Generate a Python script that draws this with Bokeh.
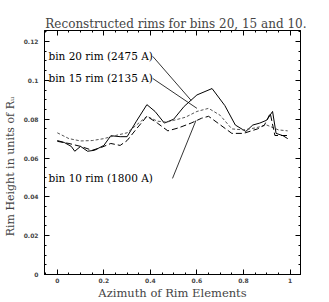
from bokeh.plotting import figure
from bokeh.models import FixedTicker, LinearAxis, Range1d
from bokeh.core.properties import value
from bokeh.embed import file_html
from bokeh.resources import INLINE

# data
bin20_x = [0.0, 0.03, 0.06, 0.075, 0.1, 0.13, 0.16, 0.2, 0.23, 0.27, 0.3, 0.34, 0.385, 0.42, 0.46, 0.5, 0.545, 0.6, 0.665, 0.72, 0.765, 0.81, 0.84, 0.87, 0.9, 0.925, 0.94, 0.97, 0.99]
bin20_y = [0.069, 0.068, 0.066, 0.0635, 0.066, 0.0635, 0.064, 0.0665, 0.0715, 0.071, 0.071, 0.079, 0.0875, 0.084, 0.078, 0.080, 0.0866, 0.0925, 0.0958, 0.087, 0.077, 0.0737, 0.077, 0.078, 0.0795, 0.084, 0.0727, 0.0715, 0.070]

bin15_x = [0.0, 0.05, 0.1, 0.15, 0.2, 0.25, 0.3, 0.34, 0.385, 0.43, 0.47, 0.5, 0.55, 0.6, 0.65, 0.7, 0.75, 0.8, 0.85, 0.9, 0.95, 0.99]
bin15_y = [0.073, 0.070, 0.0688, 0.069, 0.070, 0.0716, 0.073, 0.077, 0.0815, 0.079, 0.0785, 0.0794, 0.081, 0.084, 0.0856, 0.082, 0.075, 0.0745, 0.0755, 0.077, 0.0745, 0.074]

bin10_x = [0.0, 0.05, 0.1, 0.15, 0.19, 0.23, 0.27, 0.3, 0.34, 0.385, 0.43, 0.475, 0.52, 0.575, 0.62, 0.65, 0.69, 0.75, 0.8, 0.86, 0.89, 0.915, 0.935, 0.96, 0.99]
bin10_y = [0.0686, 0.0675, 0.066, 0.064, 0.0655, 0.0675, 0.0665, 0.069, 0.075, 0.0815, 0.078, 0.074, 0.0755, 0.078, 0.0805, 0.0815, 0.078, 0.0727, 0.0727, 0.075, 0.077, 0.083, 0.0716, 0.0716, 0.0716]

labels = ["bin 20 rim (2475 A)", "bin 15 rim (2135 A)", "bin 10 rim (1800 A)"]
x_ticks = [0, 0.2, 0.4, 0.6, 0.8, 1.0]
x_tick_labels = ["0", "0.2", "0.4", "0.6", "0.8", "1"]
y_ticks = [0, 0.02, 0.04, 0.06, 0.08, 0.1, 0.12]
y_tick_labels = ["0", "0.02", "0.04", "0.06", "0.08", "0.1", "0.12"]

SERIF = "DejaVu Serif"

p = figure(width=313, height=288, output_backend="svg", toolbar_location=None,
           x_range=Range1d(-0.055, 1.045), y_range=Range1d(0, 0.1257),
           title="Reconstructed rims for bins 20, 15 and 10.")
p.margin = (14, 0, 0, 0)
p.min_border_left = 40
p.min_border_right = 13
p.min_border_top = 0
p.min_border_bottom = 0
p.title.text_font = SERIF
p.title.text_font_size = "12px"
p.title.text_font_style = "normal"
p.title.align = "right"
p.title.offset = -6
p.title.standoff = 0
p.xgrid.visible = False
p.ygrid.visible = False
p.outline_line_color = "black"
p.outline_line_width = 1
p.background_fill_color = "white"
p.border_fill_color = "white"

minor_x = [i * 0.05 for i in range(-1, 21)]
minor_y = [i * 0.005 for i in range(0, 26)]

def style(ax, ticks, labs, minor, show):
    ax.ticker = FixedTicker(ticks=ticks, minor_ticks=minor)
    ax.major_label_overrides = {t: l for t, l in zip(ticks, labs)}
    ax.major_tick_in = 5
    ax.major_tick_out = 0
    ax.minor_tick_in = 2
    ax.minor_tick_out = 0
    ax.axis_line_color = "black"
    ax.major_tick_line_color = "black"
    ax.minor_tick_line_color = "black"
    ax.major_label_text_font = "DejaVu Sans"
    ax.major_label_text_font_size = "6px"
    ax.major_label_text_font_style = "bold"
    ax.major_label_standoff = 4
    if not show:
        ax.major_label_text_color = None
        ax.major_label_standoff = 0
        ax.major_label_text_font_size = "0px"

style(p.xaxis[0], x_ticks, x_tick_labels, minor_x, True)
style(p.yaxis[0], y_ticks, y_tick_labels, minor_y, True)
p.yaxis[0].major_label_standoff = 6
p.xaxis[0].major_label_standoff = 3
p.xaxis[0].axis_label = "Azimuth of Rim Elements"
p.xaxis[0].axis_label_text_font_size = "11.5px"
p.xaxis[0].axis_label_standoff = 0
p.yaxis[0].axis_label = "Rim Height in units of R\u1d64" + " " * 8
p.yaxis[0].axis_label_text_font_size = "11px"
p.yaxis[0].axis_label_standoff = 4
for ax in (p.xaxis[0], p.yaxis[0]):
    ax.axis_label_text_font = SERIF
    ax.axis_label_text_font_style = "normal"

top = LinearAxis()
right = LinearAxis()
style(top, x_ticks, x_tick_labels, minor_x, False)
style(right, y_ticks, y_tick_labels, minor_y, False)
p.add_layout(top, "above")
p.add_layout(right, "right")

p.line(bin20_x, bin20_y, line_color="black", line_width=1)
p.line(bin15_x, bin15_y, line_color="#555555", line_width=1, line_dash="3 2")
p.line(bin10_x, bin10_y, line_color="black", line_width=1, line_dash="6 3")

# annotations
p.text(x=[-0.038, -0.038, -0.038], y=[0.1124, 0.101, 0.0495], text=labels,
       text_font=value(SERIF), text_font_size="10.5px", text_baseline="middle",
       text_color="black")
p.segment(x0=[0.41, 0.41, 0.495], y0=[0.1124, 0.101, 0.0495],
          x1=[0.575, 0.60, 0.596], y1=[0.0897, 0.0856, 0.0794],
          line_color="black", line_width=0.8)

open("out.html", "w").write(file_html(p, INLINE))
